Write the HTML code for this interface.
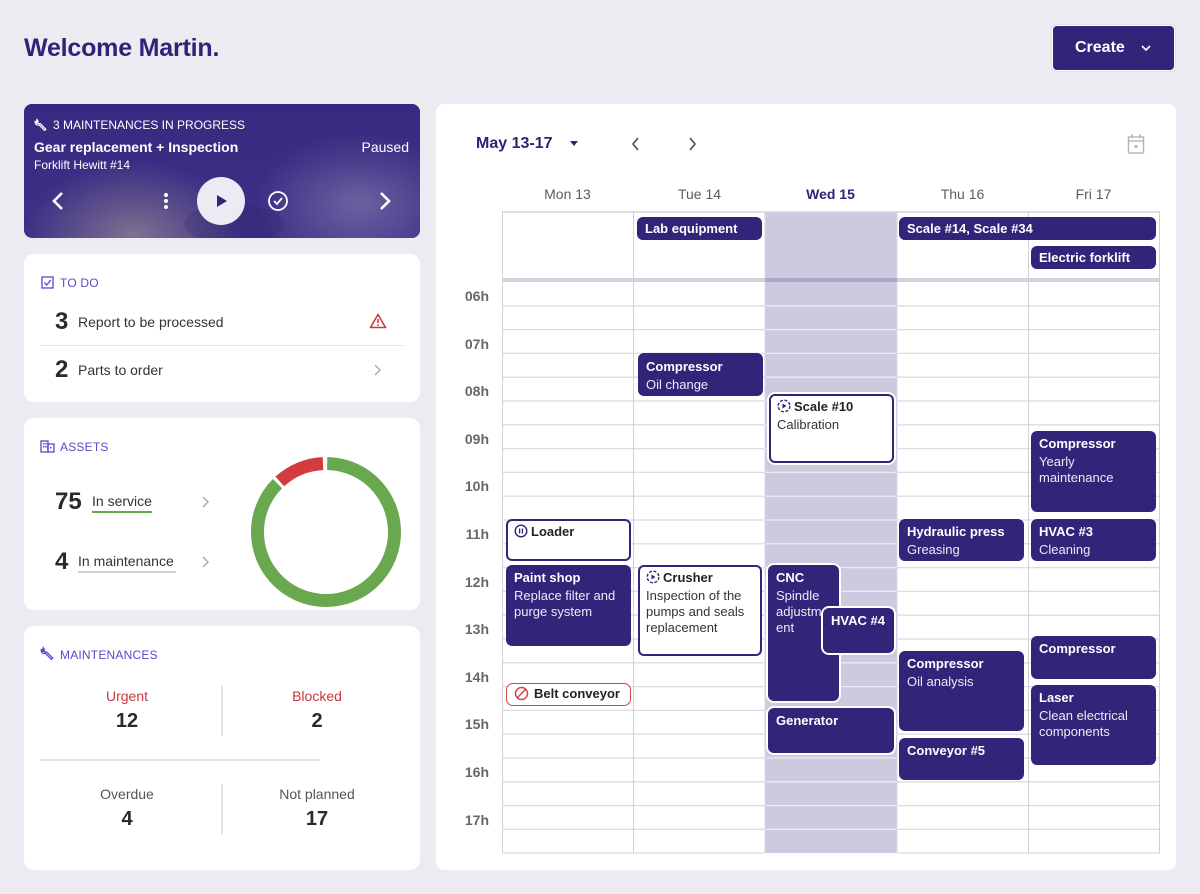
<!DOCTYPE html>
<html><head><meta charset="utf-8">
<style>
*{box-sizing:border-box;margin:0;padding:0}
html,body{width:1200px;height:894px;overflow:hidden}
body{background:#ebebf1;font-family:"Liberation Sans",Arial,sans-serif;position:relative;color:#2a2a2a}
.abs{position:absolute}
.card{position:absolute;background:#fff;border-radius:10px}
.lbl{position:absolute;font-size:12px;color:#5848cc;letter-spacing:0.2px;line-height:14px}
.ev{position:absolute;background:#31257a;color:#fff;border-radius:6px;padding:4px 8px 0 8px;overflow:hidden}
.ev .t{font-weight:bold;font-size:13px;line-height:17px;white-space:nowrap}
.ev .s{font-size:13px;line-height:16px;margin-top:2px;color:#ecebf5}
.ev.o{background:#fff;border:2px solid #31257a;color:#222;padding:2px 6px 0 6px}
.ev.o .s{color:#333}
.ev.w{box-shadow:0 0 0 2px #fff}
.ad{position:absolute;background:#31257a;color:#fff;border-radius:6px;font-weight:bold;font-size:13px;line-height:23px;padding-left:8px;white-space:nowrap}
.hr{position:absolute;left:440px;width:49px;text-align:right;font-size:14px;font-weight:bold;color:#66666c;line-height:18px}
.dh{position:absolute;top:185px;width:131px;text-align:center;font-size:14px;color:#5c5c62;line-height:18px}
</style></head><body>

<!-- Header -->
<div class="abs" style="left:24px;top:33px;font-size:25px;font-weight:bold;color:#2f2377;line-height:30px;letter-spacing:-0.2px">Welcome Martin.</div>
<div class="abs" style="left:1052px;top:25px;width:123px;height:46px;background:#31257a;border:1.5px solid #fff;border-radius:5px;box-shadow:0 0 0 1px #e0dfe8"></div>
<div class="abs" style="left:1075px;top:38px;font-size:16px;font-weight:bold;color:#fff;line-height:20px">Create</div>
<svg class="abs" style="left:1140px;top:43px" width="12" height="10"><polyline points="2,3 6,7 10,3" fill="none" stroke="#fff" stroke-width="1.6"/></svg>

<!-- Hero card -->
<div class="abs" style="left:24px;top:104px;width:396px;height:134px;border-radius:8px;overflow:hidden;background:#3a2d85">
  <div class="abs" style="left:0px;top:55px;width:220px;height:100px;background:radial-gradient(ellipse at 50% 75%,rgba(205,190,155,0.5),rgba(205,190,155,0) 70%)"></div>
  <div class="abs" style="left:230px;top:25px;width:190px;height:120px;background:radial-gradient(ellipse at 55% 60%,rgba(185,180,205,0.45),rgba(185,180,205,0) 70%)"></div>
  <div class="abs" style="left:0;top:0;width:396px;height:134px;background:linear-gradient(180deg,rgba(52,40,126,0.65) 0%,rgba(60,48,130,0.2) 60%,rgba(90,80,150,0.1) 100%)"></div>
  <div class="abs" style="left:160px;top:100px;width:100px;height:40px;border-radius:50%;background:rgba(40,30,90,0.2)"></div>
</div>
<svg class="abs" style="left:34px;top:118px" width="14" height="14" viewBox="0 0 14 14"><path d="M3 1.5a3 3 0 0 0 3.3 4.2l5.5 5.5-1.2 1.2-5.5-5.5A3 3 0 0 1 1.2 3.4l1.6 1.6 1.4-1.4z" fill="none" stroke="#fff" stroke-width="1.2"/></svg>
<div class="abs" style="left:53px;top:118px;font-size:12px;color:#fff;line-height:14px">3 MAINTENANCES IN PROGRESS</div>
<div class="abs" style="left:34px;top:138px;font-size:14px;font-weight:bold;color:#fff;line-height:18px">Gear replacement + Inspection</div>
<div class="abs" style="left:34px;top:158px;font-size:12px;color:#fff;line-height:14px">Forklift Hewitt #14</div>
<div class="abs" style="left:340px;top:138px;width:69px;text-align:right;font-size:14px;color:#fff;line-height:18px">Paused</div>
<svg class="abs" style="left:48px;top:190px" width="20" height="22"><polyline points="14,3 6,11 14,19" fill="none" stroke="#fff" stroke-width="2.6"/></svg>
<svg class="abs" style="left:162px;top:192px" width="8" height="20"><circle cx="4" cy="3" r="2" fill="#fff"/><circle cx="4" cy="9" r="2" fill="#fff"/><circle cx="4" cy="15" r="2" fill="#fff"/></svg>
<svg class="abs" style="left:197px;top:177px" width="48" height="48"><circle cx="24" cy="24" r="24" fill="#ecebf3"/><polygon points="20,18 20,30 30,24" fill="#31257a"/></svg>
<svg class="abs" style="left:267px;top:190px" width="22" height="22"><circle cx="11" cy="11" r="9" fill="none" stroke="#fff" stroke-width="1.8"/><polyline points="7,11 10,14 15,8" fill="none" stroke="#fff" stroke-width="1.8"/></svg>
<svg class="abs" style="left:375px;top:190px" width="20" height="22"><polyline points="6,3 14,11 6,19" fill="none" stroke="#fff" stroke-width="2.6"/></svg>

<!-- TO DO card -->
<div class="card" style="left:24px;top:254px;width:396px;height:148px"></div>
<svg class="abs" style="left:41px;top:276px" width="13" height="13"><rect x="1" y="1" width="11" height="11" fill="none" stroke="#5848cc" stroke-width="1.3"/><polyline points="3.5,6.5 5.8,9 9.8,4" fill="none" stroke="#5848cc" stroke-width="1.3"/></svg>
<div class="lbl" style="left:60px;top:276px">TO DO</div>
<div class="abs" style="left:55px;top:309px;font-size:24px;font-weight:bold;line-height:26px;color:#2a2a2a">3</div>
<div class="abs" style="left:78px;top:313px;font-size:14px;line-height:18px;color:#333">Report to be processed</div>
<svg class="abs" style="left:369px;top:313px" width="18" height="16"><path d="M9 1.5 L16.5 14.5 H1.5 Z" fill="none" stroke="#d0393f" stroke-width="1.6" stroke-linejoin="round"/><line x1="9" y1="6" x2="9" y2="10" stroke="#d0393f" stroke-width="1.6"/><circle cx="9" cy="12.2" r="0.9" fill="#d0393f"/></svg>
<div class="abs" style="left:40px;top:345px;width:364px;height:1px;background:#e3e3e8"></div>
<div class="abs" style="left:55px;top:357px;font-size:24px;font-weight:bold;line-height:26px;color:#2a2a2a">2</div>
<div class="abs" style="left:78px;top:361px;font-size:14px;line-height:18px;color:#333">Parts to order</div>
<svg class="abs" style="left:372px;top:363px" width="10" height="14"><polyline points="3,2 8,7 3,12" fill="none" stroke="#aaa" stroke-width="1.4"/></svg>

<!-- ASSETS card -->
<div class="card" style="left:24px;top:418px;width:396px;height:192px"></div>
<svg class="abs" style="left:40px;top:440px" width="15" height="13"><rect x="1" y="1" width="7" height="11" fill="none" stroke="#5848cc" stroke-width="1.3"/><rect x="8" y="4" width="6" height="8" fill="none" stroke="#5848cc" stroke-width="1.3"/><rect x="3" y="3" width="1.5" height="1.5" fill="#5848cc"/><rect x="5.3" y="3" width="1.5" height="1.5" fill="#5848cc"/><rect x="3" y="6" width="1.5" height="1.5" fill="#5848cc"/><rect x="5.3" y="6" width="1.5" height="1.5" fill="#5848cc"/><rect x="10" y="7" width="1.5" height="1.5" fill="#5848cc"/></svg>
<div class="lbl" style="left:60px;top:440px">ASSETS</div>
<div class="abs" style="left:55px;top:489px;font-size:24px;font-weight:bold;line-height:26px;color:#2a2a2a">75</div>
<div class="abs" style="left:92px;top:492px;font-size:14px;line-height:18px;color:#333">In service</div>
<div class="abs" style="left:92px;top:511px;width:60px;height:2px;background:#6aa84f"></div>
<svg class="abs" style="left:200px;top:495px" width="10" height="14"><polyline points="3,2 8,7 3,12" fill="none" stroke="#aaa" stroke-width="1.4"/></svg>
<div class="abs" style="left:55px;top:549px;font-size:24px;font-weight:bold;line-height:26px;color:#2a2a2a">4</div>
<div class="abs" style="left:78px;top:552px;font-size:14px;line-height:18px;color:#333">In maintenance</div>
<div class="abs" style="left:78px;top:571px;width:98px;height:2px;background:#cfcfd4"></div>
<svg class="abs" style="left:200px;top:555px" width="10" height="14"><polyline points="3,2 8,7 3,12" fill="none" stroke="#aaa" stroke-width="1.4"/></svg>
<svg class="abs" style="left:246px;top:452px" width="160" height="160" viewBox="0 0 160 160">
  <g transform="translate(80,80)">
    <path d="M 1.2 -68.5 A 68.5 68.5 0 1 1 -48.5 -48.4" fill="none" stroke="#6aa84f" stroke-width="13"/>
    <path d="M -46.2 -50.6 A 68.5 68.5 0 0 1 -3.0 -68.4" fill="none" stroke="#d33c3c" stroke-width="13"/>
  </g>
</svg>

<!-- MAINTENANCES card -->
<div class="card" style="left:24px;top:626px;width:396px;height:244px"></div>
<svg class="abs" style="left:40px;top:646px" width="15" height="15" viewBox="0 0 14 14"><path d="M3 1.5a3 3 0 0 0 3.3 4.2l5.5 5.5-1.2 1.2-5.5-5.5A3 3 0 0 1 1.2 3.4l1.6 1.6 1.4-1.4z" fill="none" stroke="#5848cc" stroke-width="1.2"/></svg>
<div class="lbl" style="left:60px;top:648px">MAINTENANCES</div>
<div class="abs" style="left:40px;top:687px;width:174px;text-align:center;font-size:14px;line-height:18px;color:#c8373f">Urgent</div>
<div class="abs" style="left:40px;top:709px;width:174px;text-align:center;font-size:20px;font-weight:bold;line-height:24px;color:#2a2a2a">12</div>
<div class="abs" style="left:230px;top:687px;width:174px;text-align:center;font-size:14px;line-height:18px;color:#c8373f">Blocked</div>
<div class="abs" style="left:230px;top:709px;width:174px;text-align:center;font-size:20px;font-weight:bold;line-height:24px;color:#2a2a2a">2</div>
<div class="abs" style="left:221px;top:686px;width:2px;height:50px;background:#e2e2e6"></div>
<div class="abs" style="left:40px;top:759px;width:280px;height:2px;background:#e2e2e6"></div>
<div class="abs" style="left:40px;top:785px;width:174px;text-align:center;font-size:14px;line-height:18px;color:#555">Overdue</div>
<div class="abs" style="left:40px;top:807px;width:174px;text-align:center;font-size:20px;font-weight:bold;line-height:24px;color:#2a2a2a">4</div>
<div class="abs" style="left:230px;top:785px;width:174px;text-align:center;font-size:14px;line-height:18px;color:#555">Not planned</div>
<div class="abs" style="left:230px;top:807px;width:174px;text-align:center;font-size:20px;font-weight:bold;line-height:24px;color:#2a2a2a">17</div>
<div class="abs" style="left:221px;top:784px;width:2px;height:50px;background:#e2e2e6"></div>

<!-- Calendar card -->
<div class="card" style="left:436px;top:104px;width:740px;height:766px;border-radius:8px"></div>
<div class="abs" style="left:476px;top:134px;font-size:16px;font-weight:bold;color:#2f2377;line-height:20px">May 13-17</div>
<svg class="abs" style="left:569px;top:140px" width="10" height="8"><polygon points="1,1 9,1 5,6" fill="#2f2377"/></svg>
<svg class="abs" style="left:630px;top:136px" width="12" height="16"><polyline points="8,2 3,8 8,14" fill="none" stroke="#444" stroke-width="1.5"/></svg>
<svg class="abs" style="left:686px;top:136px" width="12" height="16"><polyline points="4,2 9,8 4,14" fill="none" stroke="#444" stroke-width="1.5"/></svg>
<svg class="abs" style="left:1127px;top:133px" width="18" height="22"><rect x="1.5" y="4" width="15" height="16" fill="none" stroke="#b5b5ba" stroke-width="1.4"/><line x1="1.5" y1="8" x2="16.5" y2="8" stroke="#b5b5ba" stroke-width="1.4"/><line x1="5" y1="1" x2="5" y2="5" stroke="#b5b5ba" stroke-width="1.4"/><line x1="13" y1="1" x2="13" y2="5" stroke="#b5b5ba" stroke-width="1.4"/><rect x="7.5" y="12" width="3" height="3" fill="#b5b5ba"/></svg>

<div class="dh" style="left:502px">Mon 13</div>
<div class="dh" style="left:634px">Tue 14</div>
<div class="dh" style="left:765px;font-weight:bold;color:#2f2377">Wed 15</div>
<div class="dh" style="left:897px">Thu 16</div>
<div class="dh" style="left:1028px">Fri 17</div>

<svg class="abs" style="left:0;top:0" width="1200" height="894">
  <rect x="765" y="212" width="132" height="641" fill="#cdcadf"/>
  <path d="M502 305.8H765M897 305.8H1160M502 329.6H765M897 329.6H1160M502 353.4H765M897 353.4H1160M502 377.2H765M897 377.2H1160M502 401H765M897 401H1160M502 424.8H765M897 424.8H1160M502 448.6H765M897 448.6H1160M502 472.4H765M897 472.4H1160M502 496.2H765M897 496.2H1160M502 520H765M897 520H1160M502 543.8H765M897 543.8H1160M502 567.6H765M897 567.6H1160M502 591.4H765M897 591.4H1160M502 615.2H765M897 615.2H1160M502 639H765M897 639H1160M502 662.8H765M897 662.8H1160M502 686.6H765M897 686.6H1160M502 710.4H765M897 710.4H1160M502 734.2H765M897 734.2H1160M502 758H765M897 758H1160M502 781.8H765M897 781.8H1160M502 805.6H765M897 805.6H1160M502 829.4H765M897 829.4H1160M502 853H765M897 853H1160" stroke="#dcdce2" stroke-width="1.3" fill="none"/>
  <path d="M765 305.8H897M765 329.6H897M765 353.4H897M765 377.2H897M765 401H897M765 424.8H897M765 448.6H897M765 472.4H897M765 496.2H897M765 520H897M765 543.8H897M765 567.6H897M765 591.4H897M765 615.2H897M765 639H897M765 662.8H897M765 686.6H897M765 710.4H897M765 734.2H897M765 758H897M765 781.8H897M765 805.6H897M765 829.4H897" stroke="#eceaf4" stroke-width="1.3" fill="none"/>
  <line x1="502" y1="212" x2="1160" y2="212" stroke="#d6d6dc" stroke-width="1.5"/>
  <path d="M502.5 212V853M633.5 212V853M1028.5 212V853M1159.5 212V853" stroke="#d0d0d6" stroke-width="1" fill="none"/>
  <path d="M765 212V853M897 212V853" stroke="#d8d6e4" stroke-width="1" fill="none"/>
  <rect x="502" y="278" width="658" height="4" fill="#d3d2dc"/>
  <rect x="765" y="278" width="132" height="4" fill="#aaa6c6"/>
</svg>

<div class="hr" style="top:287px">06h</div>
<div class="hr" style="top:334.6px">07h</div>
<div class="hr" style="top:382.2px">08h</div>
<div class="hr" style="top:429.8px">09h</div>
<div class="hr" style="top:477.4px">10h</div>
<div class="hr" style="top:525px">11h</div>
<div class="hr" style="top:572.6px">12h</div>
<div class="hr" style="top:620.2px">13h</div>
<div class="hr" style="top:667.8px">14h</div>
<div class="hr" style="top:715.4px">15h</div>
<div class="hr" style="top:763px">16h</div>
<div class="hr" style="top:810.6px">17h</div>

<!-- all-day events -->
<div class="ad" style="left:637px;top:217px;width:125px;height:23px">Lab equipment</div>
<div class="ad" style="left:899px;top:217px;width:257px;height:23px">Scale #14, Scale #34</div>
<div class="ad" style="left:1031px;top:246px;width:125px;height:23px">Electric forklift</div>

<!-- timed events -->
<div class="ev" style="left:638px;top:353px;width:125px;height:43px;padding-top:5px"><div class="t">Compressor</div><div class="s">Oil change</div></div>

<div class="ev o w" style="left:769px;top:394px;width:125px;height:69px">
  <div class="t"><svg width="14" height="14" style="vertical-align:-2px;margin-right:3px"><circle cx="7" cy="7" r="5.8" fill="none" stroke="#31257a" stroke-width="1.4" stroke-dasharray="3 1.6"/><polygon points="5.5,4.5 5.5,9.5 9.5,7" fill="#31257a"/></svg>Scale #10</div>
  <div class="s">Calibration</div></div>

<div class="ev" style="left:1031px;top:431px;width:125px;height:81px"><div class="t">Compressor</div><div class="s">Yearly<br>maintenance</div></div>

<div class="ev o" style="left:506px;top:519px;width:125px;height:42px">
  <div class="t"><svg width="14" height="14" style="vertical-align:-2px;margin-right:3px"><circle cx="7" cy="7" r="5.8" fill="none" stroke="#31257a" stroke-width="1.4"/><line x1="5.6" y1="4.5" x2="5.6" y2="9.5" stroke="#31257a" stroke-width="1.3"/><line x1="8.4" y1="4.5" x2="8.4" y2="9.5" stroke="#31257a" stroke-width="1.3"/></svg>Loader</div></div>

<div class="ev" style="left:899px;top:519px;width:125px;height:42px"><div class="t">Hydraulic press</div><div class="s">Greasing</div></div>
<div class="ev" style="left:1031px;top:519px;width:125px;height:42px"><div class="t">HVAC #3</div><div class="s">Cleaning</div></div>

<div class="ev" style="left:506px;top:565px;width:125px;height:81px"><div class="t">Paint shop</div><div class="s">Replace filter and<br>purge system</div></div>

<div class="ev o" style="left:638px;top:565px;width:124px;height:91px">
  <div class="t"><svg width="14" height="14" style="vertical-align:-2px;margin-right:3px"><circle cx="7" cy="7" r="5.8" fill="none" stroke="#31257a" stroke-width="1.4" stroke-dasharray="3 1.6"/><polygon points="5.5,4.5 5.5,9.5 9.5,7" fill="#31257a"/></svg>Crusher</div>
  <div class="s">Inspection of the<br>pumps and seals<br>replacement</div></div>

<div class="ev w" style="left:768px;top:565px;width:71px;height:136px"><div class="t">CNC</div><div class="s" style="white-space:nowrap">Spindle<br>adjustm<br>ent</div></div>
<div class="ev w" style="left:823px;top:608px;width:71px;height:45px"><div class="t">HVAC #4</div></div>

<div class="ev" style="left:1031px;top:636px;width:125px;height:43px"><div class="t">Compressor</div></div>
<div class="ev" style="left:899px;top:651px;width:125px;height:80px"><div class="t">Compressor</div><div class="s">Oil analysis</div></div>

<div class="abs" style="left:506px;top:683px;width:125px;height:23px;border:1.3px solid #d04545;border-radius:7px;background:#fff;font-size:13px;font-weight:bold;color:#222;line-height:20px;padding-left:7px;white-space:nowrap"><svg width="15" height="15" style="vertical-align:-3px;margin-right:5px"><circle cx="7.5" cy="7.5" r="6" fill="none" stroke="#d04545" stroke-width="1.5"/><line x1="3.5" y1="11.5" x2="11.5" y2="3.5" stroke="#d04545" stroke-width="1.5"/></svg>Belt conveyor</div>

<div class="ev" style="left:1031px;top:685px;width:125px;height:80px"><div class="t">Laser</div><div class="s">Clean electrical<br>components</div></div>
<div class="ev w" style="left:768px;top:708px;width:126px;height:45px"><div class="t">Generator</div></div>
<div class="ev" style="left:899px;top:738px;width:125px;height:42px"><div class="t">Conveyor #5</div></div>

</body></html>
